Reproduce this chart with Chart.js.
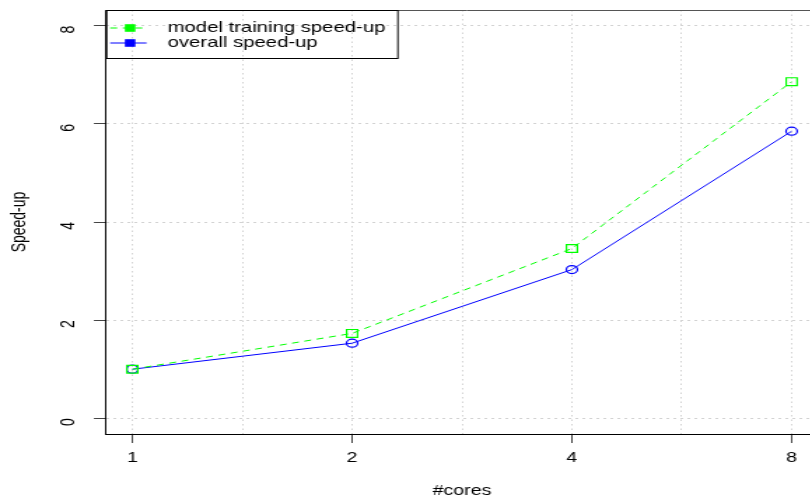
<!DOCTYPE html>
<html>
<head>
<meta charset="utf-8">
<script src="https://cdn.jsdelivr.net/npm/chart.js@4/dist/chart.umd.min.js"></script>
<style>
  html, body { margin: 0; padding: 0; background: #fff; overflow: hidden; }
  #wrap { width: 810px; height: 504px; overflow: hidden; }
  /* the reference picture is stretched sideways, so the canvas is too;
     its right edge runs past the window, as in the reference */
  #myChart { transform: scaleX(1.4); transform-origin: 0 0; display: block; }
</style>
</head>
<body>
<div id="wrap">
<canvas id="myChart" width="591" height="504"></canvas>
</div>
<script>
const cores = [1, 2, 4, 8];
const trainingSpeedup = [1.0, 1.73, 3.46, 6.86];
const overallSpeedup = [1.0, 1.53, 3.03, 5.85];
const yTicks = [0, 2, 4, 6, 8];
const xGridSteps = [0, 0.5, 1, 1.5, 2, 2.5, 3];
const seriesNames = ["model training speed-up", "overall speed-up"];
const seriesColors = ["#00ff00", "#0000ff"];

const FONT = "'Liberation Sans', Arial, Helvetica, sans-serif";

const myCanvas = document.getElementById("myChart");

// x is drawn on a log2 scale, so 1,2,4,8 are evenly spaced
const toPoints = (vals) => cores.map((c, i) => ({ x: Math.log2(c), y: vals[i] }));

const boxLegend = {
  id: "boxLegend",
  afterDraw(chart) {
    const ctx = chart.ctx;
    const area = chart.chartArea;
    ctx.save();
    // top edge of the plot box
    ctx.strokeStyle = "#555";
    ctx.lineWidth = 1;
    ctx.beginPath();
    ctx.moveTo(area.left, area.top + 0.5);
    ctx.lineTo(chart.width, area.top + 0.5);
    ctx.stroke();

    // legend box
    const lx = area.left, ly = area.top, lw = 208, lh = 48;
    ctx.strokeStyle = "#000";
    ctx.strokeRect(lx + 0.5, ly + 0.5, lw, lh);
    const rows = [ly + 18, ly + 33];
    ctx.font = "14.5px " + FONT;
    ctx.textBaseline = "middle";
    ctx.textAlign = "left";
    rows.forEach((y, i) => {
      ctx.strokeStyle = seriesColors[i];
      ctx.setLineDash(i === 0 ? [5, 4] : []);
      ctx.beginPath();
      ctx.moveTo(lx + 3, y);
      ctx.lineTo(lx + 29, y);
      ctx.stroke();
      ctx.setLineDash([]);
      ctx.fillStyle = seriesColors[i];
      ctx.fillRect(lx + 13.5, y - 3.8, 7.5, 7.6);
      ctx.fillStyle = "#000";
      ctx.fillText(seriesNames[i], lx + 44, y);
    });
    ctx.restore();
  }
};

const speedChart = new Chart(myCanvas, {
  type: "line",
  data: {
    datasets: [
      {
        label: seriesNames[0],
        data: toPoints(trainingSpeedup),
        borderColor: seriesColors[0],
        borderWidth: 1,
        borderDash: [5, 4],
        pointStyle: "rect",
        pointRadius: 5.5,
        pointBorderColor: seriesColors[0],
        pointBackgroundColor: "rgba(0,0,0,0)",
        pointBorderWidth: 1.2,
        tension: 0
      },
      {
        label: seriesNames[1],
        data: toPoints(overallSpeedup),
        borderColor: seriesColors[1],
        borderWidth: 1,
        pointStyle: "circle",
        pointRadius: 4,
        pointBorderColor: seriesColors[1],
        pointBackgroundColor: "rgba(0,0,0,0)",
        pointBorderWidth: 1.2,
        tension: 0
      }
    ]
  },
  options: {
    responsive: false,
    animation: false,
    devicePixelRatio: 1,
    layout: { padding: { top: 10, right: 0, left: 0, bottom: 0 } },
    plugins: {
      legend: { display: false },
      tooltip: { enabled: false }
    },
    scales: {
      x: {
        type: "linear",
        min: -0.12,
        max: 3.12,
        afterBuildTicks: (scale) => {
          scale.ticks = xGridSteps.map((v) => ({ value: v }));
        },
        afterFit: (scale) => {
          scale.height = 70;
        },
        ticks: {
          autoSkip: false,
          maxRotation: 0,
          padding: 7,
          color: "#000",
          font: { family: FONT, size: 14 },
          callback: (v) => (Number.isInteger(v) ? String(cores[v]) : "")
        },
        grid: {
          color: "#d3d3d3",
          lineWidth: 1,
          tickLength: 9,
          tickColor: (c) => (c.tick && Number.isInteger(c.tick.value) ? "#444" : "rgba(0,0,0,0)")
        },
        border: { display: true, color: "#000", width: 1, dash: [1.5, 3] },
        title: {
          display: true,
          text: "#cores",
          color: "#000",
          font: { family: FONT, size: 14 },
          padding: { top: 0, bottom: 4 }
        }
      },
      y: {
        min: -0.32,
        max: 8.32,
        afterBuildTicks: (scale) => {
          scale.ticks = yTicks.map((v) => ({ value: v }));
        },
        afterFit: (scale) => {
          scale.width = 75.7;
          scale.paddingTop = 0;
          scale.paddingBottom = 0;
        },
        ticks: {
          minRotation: 90,
          maxRotation: 90,
          padding: 18,
          color: "#000",
          font: { family: FONT, size: 14 }
        },
        grid: {
          color: "#d3d3d3",
          lineWidth: 1,
          tickLength: 8.6,
          tickColor: "#444"
        },
        border: { display: true, color: "#000", width: 1, dash: [2, 3] },
        title: {
          display: true,
          text: "Speed-up",
          color: "#000",
          font: { family: FONT, size: 14 },
          padding: { top: 6, bottom: 0 }
        }
      }
    }
  },
  plugins: [boxLegend]
});
</script>
</body>
</html>
